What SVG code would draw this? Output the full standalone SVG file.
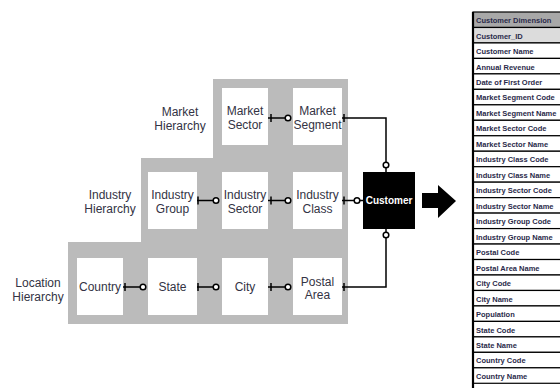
<svg xmlns="http://www.w3.org/2000/svg" width="560" height="388" viewBox="0 0 560 388">
<style>
.node rect{fill:#fff}
.nt{font-family:"Liberation Sans",Arial,sans-serif;font-size:12px;fill:#333344;text-anchor:middle}
.lbl{font-family:"Liberation Sans",Arial,sans-serif;font-size:12px;fill:#333344;text-anchor:middle}
.conn line,.conn polyline{stroke:#000;stroke-width:1.5;fill:none}
.conn circle{fill:#fff;stroke:#000;stroke-width:1.5}
.tb{font-family:"Liberation Sans",Arial,sans-serif;font-size:7.5px;font-weight:bold;fill:#2a2a4a}
.row{fill:#fff;stroke:#000;stroke-width:1.2}
</style>
<rect width="560" height="388" fill="#fff"/>
<polygon points="213,79 348,79 348,324 68,324 68,242 141,242 141,158 213,158" fill="#bbbbbb"/>
<g id="labels">
<text class="lbl" x="180" y="116">Market</text><text class="lbl" x="180" y="130">Hierarchy</text>
<text class="lbl" x="110" y="199">Industry</text><text class="lbl" x="110" y="213">Hierarchy</text>
<text class="lbl" x="38" y="287">Location</text><text class="lbl" x="38" y="301">Hierarchy</text>
</g>
<g id="market-sector" class="node"><rect x="222" y="88" width="46" height="57"/><text class="nt" x="245" y="115">Market</text><text class="nt" x="245" y="129">Sector</text></g>
<g id="market-segment" class="node"><rect x="293" y="88" width="49" height="57"/><text class="nt" x="317.5" y="115">Market</text><text class="nt" x="317.5" y="129">Segment</text></g>
<g id="industry-group" class="node"><rect x="148" y="172" width="49" height="57"/><text class="nt" x="172.5" y="199">Industry</text><text class="nt" x="172.5" y="213">Group</text></g>
<g id="industry-sector" class="node"><rect x="222" y="172" width="46" height="57"/><text class="nt" x="245" y="199">Industry</text><text class="nt" x="245" y="213">Sector</text></g>
<g id="industry-class" class="node"><rect x="293" y="172" width="49" height="57"/><text class="nt" x="317.5" y="199">Industry</text><text class="nt" x="317.5" y="213">Class</text></g>
<g id="country" class="node"><rect x="77" y="258" width="46" height="57"/><text class="nt" x="100" y="291">Country</text></g>
<g id="state" class="node"><rect x="148" y="258" width="49" height="57"/><text class="nt" x="172.5" y="291">State</text></g>
<g id="city" class="node"><rect x="222" y="258" width="46" height="57"/><text class="nt" x="245" y="291">City</text></g>
<g id="postal-area" class="node"><rect x="293" y="258" width="49" height="57"/><text class="nt" x="317.5" y="286">Postal</text><text class="nt" x="317.5" y="299">Area</text></g>
<g id="customer"><rect x="363" y="172" width="52" height="57" fill="#000"/><text x="389" y="204" font-family="Liberation Sans,Arial,sans-serif" font-size="10" font-weight="bold" fill="#fff" text-anchor="middle">Customer</text></g>
<g class="conn" id="connectors">
<line x1="268" y1="118" x2="285" y2="118"/><line x1="271" y1="114" x2="271" y2="122"/><circle cx="288" cy="118" r="2.8"/>
<polyline points="342,118 386,118 386,162"/><line x1="344" y1="114" x2="344" y2="122"/><circle cx="386" cy="165" r="2.8"/><line x1="386" y1="168" x2="386" y2="172"/>
<line x1="197" y1="200.5" x2="213" y2="200.5"/><line x1="198" y1="196.5" x2="198" y2="204.5"/><circle cx="216" cy="200.5" r="2.8"/>
<line x1="268" y1="200.5" x2="285" y2="200.5"/><line x1="271" y1="196.5" x2="271" y2="204.5"/><circle cx="288" cy="200.5" r="2.8"/>
<line x1="342" y1="200.5" x2="354" y2="200.5"/><line x1="344" y1="196.5" x2="344" y2="204.5"/><circle cx="357" cy="200.5" r="2.8"/><line x1="360" y1="200.5" x2="363" y2="200.5"/>
<line x1="123" y1="287" x2="140" y2="287"/><line x1="125" y1="283" x2="125" y2="291"/><circle cx="143" cy="287" r="2.8"/>
<line x1="197" y1="287" x2="213" y2="287"/><line x1="198" y1="283" x2="198" y2="291"/><circle cx="216" cy="287" r="2.8"/>
<line x1="268" y1="287" x2="285" y2="287"/><line x1="271" y1="283" x2="271" y2="291"/><circle cx="288" cy="287" r="2.8"/>
<polyline points="342,287 386,287 386,238"/><line x1="344" y1="283" x2="344" y2="291"/><circle cx="386" cy="235" r="2.8"/><line x1="386" y1="232" x2="386" y2="229"/>
</g>
<polygon id="arrow" points="422,193 438,193 438,185 456,201 438,218 438,208 422,208" fill="#000"/>
<g id="customer-dimension">
<rect class="row" x="473" y="12" width="100" height="15.47" style="fill:#a8a8a8"/>
<rect class="row" x="473" y="27.47" width="100" height="15.47" style="fill:#dcdcdc"/>
<rect class="row" x="473" y="42.94" width="100" height="15.47"/>
<rect class="row" x="473" y="58.41" width="100" height="15.47"/>
<rect class="row" x="473" y="73.88" width="100" height="15.47"/>
<rect class="row" x="473" y="89.35" width="100" height="15.47"/>
<rect class="row" x="473" y="104.82" width="100" height="15.47"/>
<rect class="row" x="473" y="120.29" width="100" height="15.47"/>
<rect class="row" x="473" y="135.76" width="100" height="15.47"/>
<rect class="row" x="473" y="151.23" width="100" height="15.47"/>
<rect class="row" x="473" y="166.7" width="100" height="15.47"/>
<rect class="row" x="473" y="182.17" width="100" height="15.47"/>
<rect class="row" x="473" y="197.64" width="100" height="15.47"/>
<rect class="row" x="473" y="213.11" width="100" height="15.47"/>
<rect class="row" x="473" y="228.58" width="100" height="15.47"/>
<rect class="row" x="473" y="244.05" width="100" height="15.47"/>
<rect class="row" x="473" y="259.52" width="100" height="15.47"/>
<rect class="row" x="473" y="274.99" width="100" height="15.47"/>
<rect class="row" x="473" y="290.46" width="100" height="15.47"/>
<rect class="row" x="473" y="305.93" width="100" height="15.47"/>
<rect class="row" x="473" y="321.4" width="100" height="15.47"/>
<rect class="row" x="473" y="336.87" width="100" height="15.47"/>
<rect class="row" x="473" y="352.34" width="100" height="15.47"/>
<rect class="row" x="473" y="367.81" width="100" height="15.47"/>
<line x1="473" y1="12" x2="473" y2="388" stroke="#000" stroke-width="2.2"/>
<text class="tb" x="476" y="23">Customer Dimension</text>
<text class="tb" x="476" y="38.5">Customer_ID</text>
<text class="tb" x="476" y="54">Customer Name</text>
<text class="tb" x="476" y="69.5">Annual Revenue</text>
<text class="tb" x="476" y="85">Date of First Order</text>
<text class="tb" x="476" y="100.4">Market Segment Code</text>
<text class="tb" x="476" y="115.9">Market Segment Name</text>
<text class="tb" x="476" y="131.4">Market Sector Code</text>
<text class="tb" x="476" y="146.8">Market Sector Name</text>
<text class="tb" x="476" y="162.3">Industry Class Code</text>
<text class="tb" x="476" y="177.8">Industry Class Name</text>
<text class="tb" x="476" y="193.2">Industry Sector Code</text>
<text class="tb" x="476" y="208.7">Industry Sector Name</text>
<text class="tb" x="476" y="224.2">Industry Group Code</text>
<text class="tb" x="476" y="239.7">Industry Group Name</text>
<text class="tb" x="476" y="255.1">Postal Code</text>
<text class="tb" x="476" y="270.6">Postal Area Name</text>
<text class="tb" x="476" y="286.1">City Code</text>
<text class="tb" x="476" y="301.5">City Name</text>
<text class="tb" x="476" y="317">Population</text>
<text class="tb" x="476" y="332.5">State Code</text>
<text class="tb" x="476" y="347.9">State Name</text>
<text class="tb" x="476" y="363.4">Country Code</text>
<text class="tb" x="476" y="378.9">Country Name</text>
</g>
</svg>
